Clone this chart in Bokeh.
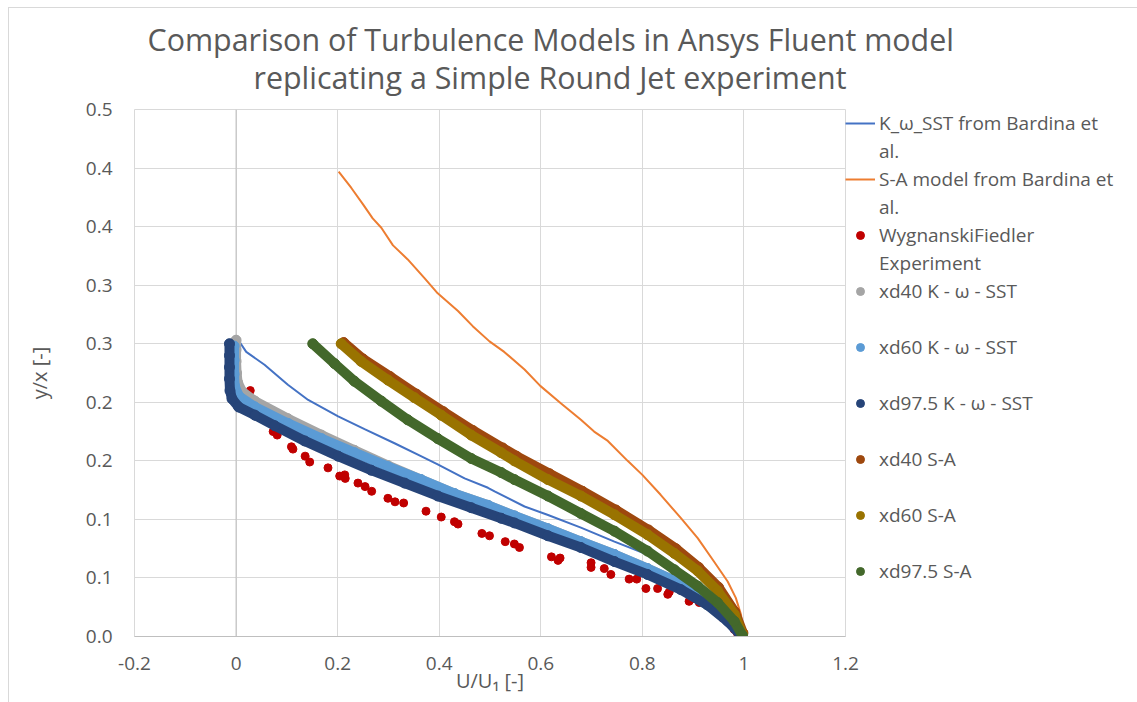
import math
from bokeh.plotting import figure
from bokeh.models import Legend, LegendItem, Span, FixedTicker, Range1d, Title
from bokeh.embed import file_html
from bokeh.resources import INLINE

# ---------------- data ----------------
title_lines = ["Comparison of Turbulence Models in Ansys Fluent model",
               "replicating a Simple Round Jet experiment"]
x_label = "U/U\u2081 [-]"
y_label = "y/x [-]"
x_ticks = [-0.2, 0, 0.2, 0.4, 0.6, 0.8, 1.0, 1.2]
x_tick_labels = ["-0.2", "0", "0.2", "0.4", "0.6", "0.8", "1", "1.2"]
y_ticks = [0, 0.05, 0.1, 0.15, 0.2, 0.25, 0.3, 0.35, 0.4, 0.45]
y_tick_labels = ["0.0", "0.1", "0.1", "0.2", "0.2", "0.3", "0.3", "0.4", "0.4", "0.5"]

series_names = ["K_\u03c9_SST from Bardina et\nal.",
                "S-A model from Bardina et\nal.",
                "WygnanskiFiedler\nExperiment",
                "xd40 K - \u03c9 - SST",
                "xd60 K - \u03c9 - SST",
                "xd97.5 K - \u03c9 - SST",
                "xd40 S-A",
                "xd60 S-A",
                "xd97.5 S-A"]

bardina_kw_x = [0.000, 0.020, 0.056, 0.102, 0.142, 0.201, 0.253, 0.312, 0.364, 0.397, 0.450, 0.496,
                0.509, 0.568, 0.613, 0.679, 0.745, 0.810, 0.850, 0.889, 0.928, 0.961, 0.987, 0.997]
bardina_kw_y = [0.256, 0.243, 0.232, 0.215, 0.202, 0.188, 0.177, 0.165, 0.154, 0.147, 0.135, 0.127,
                0.124, 0.111, 0.104, 0.093, 0.081, 0.070, 0.061, 0.053, 0.040, 0.027, 0.013, 0.002]

bardina_sa_x = [0.202, 0.227, 0.250, 0.269, 0.286, 0.309, 0.338, 0.371, 0.397, 0.437, 0.466, 0.499,
                0.528, 0.568, 0.599, 0.640, 0.679, 0.705, 0.732, 0.771, 0.800, 0.836, 0.876, 0.909,
                0.941, 0.968, 0.984, 0.994, 1.000]
bardina_sa_y = [0.397, 0.383, 0.369, 0.357, 0.349, 0.334, 0.322, 0.306, 0.293, 0.278, 0.265, 0.252,
                0.243, 0.228, 0.214, 0.199, 0.185, 0.175, 0.167, 0.150, 0.138, 0.121, 0.101, 0.084,
                0.064, 0.047, 0.033, 0.019, 0.002]

exp_x = [0.028, 0.040, 0.048, 0.056, 0.073, 0.073, 0.081, 0.109, 0.112, 0.136, 0.145, 0.181, 0.204,
         0.214, 0.215, 0.240, 0.254, 0.267, 0.299, 0.313, 0.330, 0.374, 0.404, 0.430, 0.437, 0.484,
         0.499, 0.530, 0.548, 0.558, 0.621, 0.638, 0.634, 0.699, 0.699, 0.725, 0.738, 0.774, 0.789,
         0.807, 0.830, 0.850, 0.853, 0.892, 0.897, 0.912, 0.958, 0.968, 0.981, 0.987]
exp_y = [0.210, 0.193, 0.191, 0.186, 0.182, 0.175, 0.172, 0.162, 0.160, 0.154, 0.149, 0.144, 0.137,
         0.138, 0.135, 0.131, 0.128, 0.124, 0.118, 0.115, 0.114, 0.107, 0.102, 0.098, 0.096, 0.088,
         0.086, 0.081, 0.079, 0.076, 0.068, 0.067, 0.065, 0.063, 0.059, 0.058, 0.053, 0.049, 0.049,
         0.041, 0.041, 0.036, 0.038, 0.030, 0.032, 0.029, 0.016, 0.014, 0.006, 0.003]

kw40_x = [0.000, 0.000, 0.000, 0.001, 0.003, 0.012, 0.037, 0.102, 0.168, 0.233, 0.299, 0.364, 0.430,
          0.496, 0.548, 0.614, 0.679, 0.745, 0.810, 0.876, 0.928, 0.968, 0.992]
kw40_y = [0.253, 0.245, 0.235, 0.225, 0.217, 0.209, 0.201, 0.186, 0.172, 0.159, 0.146, 0.134, 0.122,
          0.112, 0.103, 0.092, 0.081, 0.070, 0.058, 0.045, 0.031, 0.016, 0.003]

kw60_x = [-0.004, -0.004, -0.004, -0.003, 0.006, 0.037, 0.102, 0.168, 0.233, 0.299, 0.364, 0.430,
          0.496, 0.548, 0.614, 0.679, 0.745, 0.810, 0.876, 0.928, 0.968, 0.992]
kw60_y = [0.248, 0.236, 0.224, 0.214, 0.205, 0.196, 0.182, 0.169, 0.157, 0.145, 0.134, 0.122,
          0.112, 0.103, 0.092, 0.081, 0.070, 0.058, 0.045, 0.031, 0.016, 0.003]

kw975_x = [-0.013, -0.013, -0.013, -0.013, -0.012, -0.008, 0.005, 0.037, 0.076, 0.135, 0.201, 0.266,
           0.332, 0.397, 0.463, 0.522, 0.548, 0.614, 0.679, 0.745, 0.810, 0.876, 0.928, 0.968, 0.992]
kw975_y = [0.250, 0.240, 0.230, 0.220, 0.210, 0.203, 0.196, 0.189, 0.180, 0.167, 0.154, 0.142,
           0.131, 0.120, 0.110, 0.101, 0.097, 0.086, 0.076, 0.064, 0.053, 0.040, 0.027, 0.013, 0.002]

sa40_x = [0.212, 0.250, 0.303, 0.355, 0.408, 0.466, 0.525, 0.552, 0.617, 0.682, 0.748, 0.812, 0.866,
          0.911, 0.950, 0.982, 0.998]
sa40_y = [0.251, 0.237, 0.222, 0.207, 0.192, 0.176, 0.161, 0.154, 0.139, 0.124, 0.108, 0.091, 0.075,
          0.059, 0.042, 0.021, 0.003]

sa60_x = [0.207, 0.246, 0.299, 0.351, 0.404, 0.463, 0.522, 0.548, 0.614, 0.679, 0.745, 0.810, 0.863,
          0.909, 0.948, 0.981, 0.997]
sa60_y = [0.250, 0.235, 0.219, 0.204, 0.189, 0.172, 0.157, 0.150, 0.134, 0.120, 0.104, 0.087, 0.071,
          0.056, 0.039, 0.019, 0.002]

sa975_x = [0.151, 0.194, 0.233, 0.286, 0.338, 0.397, 0.463, 0.522, 0.548, 0.614, 0.679, 0.745, 0.810,
           0.863, 0.909, 0.948, 0.981, 0.997]
sa975_y = [0.250, 0.233, 0.218, 0.201, 0.185, 0.169, 0.152, 0.140, 0.134, 0.120, 0.105, 0.090, 0.073,
           0.057, 0.043, 0.029, 0.013, 0.001]

# ---------------- styling ----------------
TXT = "#595959"
FONT = "Open Sans"
GRID = "#D9D9D9"

p = figure(frame_width=711, frame_height=527, output_backend="svg", toolbar_location=None,
           x_range=Range1d(-0.2, 1.2), y_range=Range1d(0, 0.45),
           min_border_left=125, min_border_right=293, min_border_top=101, min_border_bottom=67)
p.margin = (7, 0, 0, 8)
p.styles = {"border-left": "1px solid #D9D9D9", "border-top": "1px solid #D9D9D9"}
p.outline_line_color = GRID
p.background_fill_color = "white"
p.border_fill_color = "white"

# two-line title: figure's own title = upper line, extra Title (nearer the frame) = lower line
p.title.text = title_lines[0]
p.title.align = "left"
p.title.offset = 13
p.title.standoff = -33
p.title.text_font = FONT
p.title.text_font_size = "30.4px"
p.title.text_font_style = "normal"
p.title.text_color = TXT
p.add_layout(Title(text=title_lines[1], align="left", offset=119, standoff=23, text_font=FONT,
                   text_font_size="30.4px", text_font_style="normal", text_color=TXT), "above")

p.xaxis.ticker = FixedTicker(ticks=x_ticks)
p.yaxis.ticker = FixedTicker(ticks=y_ticks)
p.xaxis.major_label_overrides = {t: l for t, l in zip(x_ticks, x_tick_labels)}
p.yaxis.major_label_overrides = {t: l for t, l in zip(y_ticks, y_tick_labels)}
for ax in (p.xaxis[0], p.yaxis[0]):
    ax.major_tick_line_color = None
    ax.minor_tick_line_color = None
    ax.major_tick_out = 0
    ax.major_tick_in = 0
    ax.major_label_text_font = FONT
    ax.major_label_text_font_size = "19px"
    ax.major_label_text_color = TXT
    ax.axis_label_text_font = FONT
    ax.axis_label_text_font_size = "20px"
    ax.axis_label_text_font_style = "normal"
    ax.axis_label_text_color = TXT
p.yaxis.axis_line_color = None
p.xaxis.axis_line_color = "#BFBFBF"
p.xaxis.major_label_standoff = 20
p.yaxis.major_label_standoff = 22
p.xaxis.axis_label = x_label
p.xaxis.axis_label_standoff = -6
p.yaxis.axis_label = y_label
p.yaxis.axis_label_standoff = 30

p.grid.grid_line_color = GRID
p.grid.grid_line_width = 1

p.add_layout(Span(location=0, dimension="height", line_color="#BFBFBF", line_width=1,
                  level="underlay"))

# series
r_kw = p.line(bardina_kw_x, bardina_kw_y, line_color="#4472C4", line_width=2)
r_sa = p.line(bardina_sa_x, bardina_sa_y, line_color="#ED7D31", line_width=2)
r_exp = p.scatter(exp_x, exp_y, size=8, fill_color="#C00000", line_color="#C00000")

cfd = [(kw40_x, kw40_y, "#A5A5A5"), (kw60_x, kw60_y, "#5B9BD5"), (kw975_x, kw975_y, "#264478"),
       (sa40_x, sa40_y, "#9E480E"), (sa60_x, sa60_y, "#997300"), (sa975_x, sa975_y, "#43682B")]
cfd_renderers = []
for xs, ys, c in cfd:
    p.line(xs, ys, line_color=c, line_width=10, line_cap="round", line_join="round")
    r = p.scatter(xs, ys, size=10, fill_color=c, line_color=c)
    cfd_renderers.append(r)

renderers = [r_kw, r_sa, r_exp] + cfd_renderers

# Excel-like legend: wrapped text continues on its own row, every entry takes the same height
blank = p.scatter(x=[], y=[], fill_alpha=0, line_alpha=0)
rows = []
for i, (name, r) in enumerate(zip(series_names, renderers)):
    parts = name.split("\n")
    rows.append(LegendItem(label=parts[0], renderers=[r]))
    for extra in parts[1:]:
        rows.append(LegendItem(label=extra, renderers=[blank]))
    if len(parts) == 1 and i < len(series_names) - 1:
        rows.append(LegendItem(label=" ", renderers=[blank]))

legend = Legend(items=rows, location="top_left", margin=0, padding=3, spacing=0, label_standoff=4,
                glyph_width=30, glyph_height=20, label_height=28,
                border_line_color=None, background_fill_alpha=0,
                label_text_font=FONT, label_text_font_size="19px", label_text_color=TXT)
p.add_layout(legend, "right")

open("out.html", "w").write(file_html(p, INLINE))
